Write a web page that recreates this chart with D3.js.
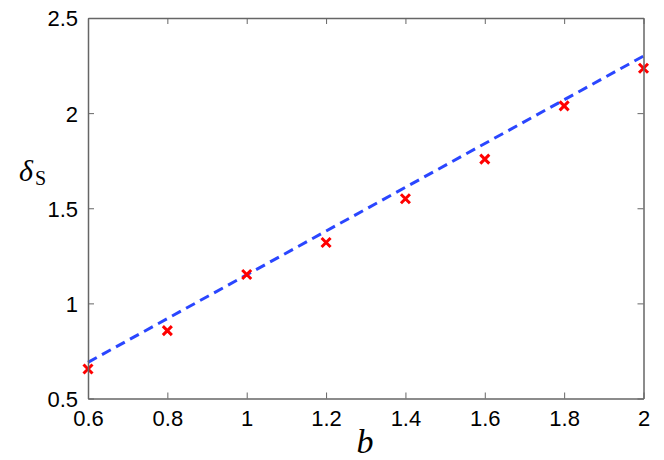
<!DOCTYPE html>
<html>
<head>
<meta charset="utf-8">
<script src="https://cdn.jsdelivr.net/npm/d3@7"></script>
<style>
  html, body { margin: 0; padding: 0; background: #fff; }
  svg { display: block; }
</style>
</head>
<body>
<svg id="chart" width="664" height="460"></svg>
<script>
// Data
const bValues = [0.6, 0.8, 1.0, 1.2, 1.4, 1.6, 1.8, 2.0];
const deltaS = [0.655, 0.857, 1.152, 1.320, 1.550, 1.758, 2.038, 2.236];
const fitB = [0.6, 2.0];
const fitDelta = [0.69, 2.30];
const xTicks = [0.6, 0.8, 1.0, 1.2, 1.4, 1.6, 1.8, 2.0];
const yTicks = [0.5, 1.0, 1.5, 2.0, 2.5];

(function () {
const svg = d3.select("#chart");
const W = 664, H = 460;
const m = { left: 88, right: 20.5, top: 18, bottom: 61.5 };
const x = d3.scaleLinear().domain([0.6, 2.0]).range([m.left, W - m.right]);
const y = d3.scaleLinear().domain([0.5, 2.5]).range([H - m.bottom, m.top]);

const axisColor = "#666";
const fontFam = "'Liberation Sans', Arial, Helvetica, sans-serif";

// Fit line
svg.append("path")
  .datum(fitB.map((b, i) => [b, fitDelta[i]]))
  .attr("d", d3.line().x(d => x(d[0])).y(d => y(d[1])))
  .attr("fill", "none")
  .attr("stroke", "#2a46ff")
  .attr("stroke-width", 3)
  .attr("stroke-dasharray", "10,6");

// Markers (x crosses)
const s = 4.5;
svg.append("g").selectAll("path")
  .data(bValues.map((b, i) => [b, deltaS[i]]))
  .join("path")
  .attr("d", d => {
    const cx = x(d[0]), cy = y(d[1]);
    return `M${cx - s},${cy - s}L${cx + s},${cy + s}M${cx - s},${cy + s}L${cx + s},${cy - s}`;
  })
  .attr("stroke", "#ff0000")
  .attr("stroke-width", 3)
  .attr("fill", "none");

// Axes (box with inward ticks on all sides)
const tl = 6;
const fmt = d => String(+d.toFixed(1));

const gBottom = svg.append("g").attr("transform", `translate(0,${y(0.5)})`)
  .call(d3.axisBottom(x).tickValues(xTicks).tickSizeInner(-tl).tickSizeOuter(0).tickPadding(12).tickFormat(fmt));
const gTop = svg.append("g").attr("transform", `translate(0,${y(2.5)})`)
  .call(d3.axisTop(x).tickValues(xTicks).tickSizeInner(-tl).tickSizeOuter(0).tickFormat(""));
const gLeft = svg.append("g").attr("transform", `translate(${x(0.6)},0)`)
  .call(d3.axisLeft(y).tickValues(yTicks).tickSizeInner(-tl).tickSizeOuter(0).tickPadding(10).tickFormat(fmt));
const gRight = svg.append("g").attr("transform", `translate(${x(2.0)},0)`)
  .call(d3.axisRight(y).tickValues(yTicks).tickSizeInner(-tl).tickSizeOuter(0).tickFormat(""));

[gBottom, gTop, gLeft, gRight].forEach(g => {
  g.select(".domain").attr("stroke", axisColor).attr("stroke-width", 1.5);
  g.selectAll(".tick line").attr("stroke", axisColor).attr("stroke-width", 1);
  g.selectAll(".tick text").attr("fill", "#000").attr("font-family", fontFam).attr("font-size", 22);
});
gBottom.selectAll(".tick text").attr("dy", "0.71em");
gLeft.selectAll(".tick text").attr("dy", "0.36em");

// Axis labels
svg.append("text")
  .attr("x", 365).attr("y", 453)
  .attr("text-anchor", "middle")
  .attr("font-family", "'Liberation Serif', 'Times New Roman', serif")
  .attr("font-style", "italic")
  .attr("font-size", 34)
  .text("b");

const yl = svg.append("text")
  .attr("x", 19).attr("y", 181)
  .attr("font-family", "'Liberation Serif', 'Times New Roman', serif");
yl.append("tspan").attr("font-style", "italic").attr("font-size", 30).text("δ");
yl.append("tspan").attr("font-size", 20).attr("dy", 4).attr("dx", 2).text("S");
})();
</script>
</body>
</html>
